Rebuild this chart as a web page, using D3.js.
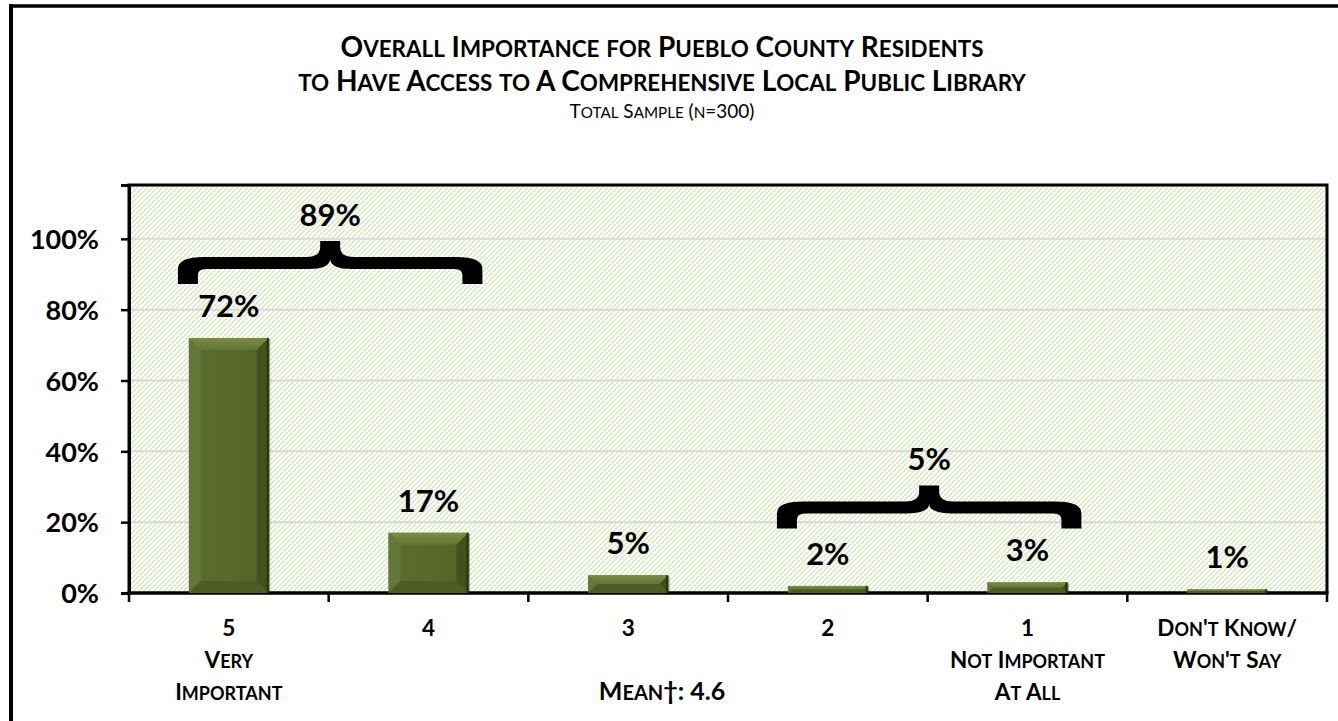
<!DOCTYPE html>
<html>
<head>
<meta charset="utf-8">
<script src="https://cdn.jsdelivr.net/npm/d3@7"></script>
<style>
  html, body { margin: 0; padding: 0; background: #fff; }
  svg text { font-family: Lato, "Open Sans", sans-serif; }
</style>
</head>
<body>
<svg id="chart" width="1338" height="721"></svg>
<script>
// ---------------- DATA ----------------
const categories = ["5", "4", "3", "2", "1", "DK"];
const categoryLabelLines = [
  ["5", "Very", "Important"],
  ["4"],
  ["3"],
  ["2"],
  ["1", "Not Important", "At All"],
  ["Don't Know/", "Won't Say"]
];
const values = [72, 17, 5, 2, 3, 1];
const valueLabels = ["72%", "17%", "5%", "2%", "3%", "1%"];
const yTicks = [0, 20, 40, 60, 80, 100];
const yTickLabels = ["0%", "20%", "40%", "60%", "80%", "100%"];
const braceFrom = ["5", "2"];
const braceTo = ["4", "1"];
const braceLabels = ["89%", "5%"];
const titleLines = ["Overall Importance for Pueblo County Residents",
                    "to Have Access to A Comprehensive Local Public Library"];
const subtitle = "Total Sample (n=300)";
const meanText = "Mean†: 4.6";

// ---------------- HELPERS ----------------
// manual small caps: lowercase letters drawn as reduced capitals
function smallCaps(textSel, str, size, ratio) {
  const runs = [];
  for (const ch of str) {
    const low = ch !== ch.toUpperCase();
    if (runs.length && runs[runs.length - 1].low === low) runs[runs.length - 1].s += ch;
    else runs.push({ low, s: ch });
  }
  runs.forEach(r => {
    textSel.append("tspan").attr("font-size", r.low ? size * ratio : size).text(r.s.toUpperCase());
  });
  return textSel;
}

// ---------------- LAYOUT ----------------
const svg = d3.select("#chart");
const plot = { left: 129, top: 185, right: 1327, bottom: 593 };

const x = d3.scaleBand().domain(categories).range([plot.left, plot.right]).paddingInner(0).paddingOuter(0);
const y = d3.scaleLinear().domain([0, 115.2]).range([plot.bottom, plot.top]);
const barW = x.bandwidth() * 0.4;

const defs = svg.append("defs");
const pat = defs.append("pattern").attr("id", "hatch").attr("patternUnits", "userSpaceOnUse")
  .attr("width", 5).attr("height", 5);
pat.append("rect").attr("width", 5).attr("height", 5).attr("fill", "#ffffff");
pat.append("path").attr("d", "M0,5 L5,0 M-1,1 L1,-1 M4,6 L6,4")
  .attr("stroke", "#d7e5bb").attr("stroke-width", 1.3);

const gTop = defs.append("linearGradient").attr("id", "bevTop").attr("x1", 0).attr("y1", 0).attr("x2", 0).attr("y2", 1);
gTop.append("stop").attr("offset", 0).attr("stop-color", "#7a8c43");
gTop.append("stop").attr("offset", 1).attr("stop-color", "#627535");
const gFace = defs.append("linearGradient").attr("id", "face").attr("x1", 0).attr("y1", 0).attr("x2", 1).attr("y2", 0);
gFace.append("stop").attr("offset", 0).attr("stop-color", "#5c6e2e");
gFace.append("stop").attr("offset", 0.5).attr("stop-color", "#58692b");
gFace.append("stop").attr("offset", 1).attr("stop-color", "#526326");

// outer frame
svg.append("line").attr("x1", 9).attr("x2", 1338).attr("y1", 6).attr("y2", 6).attr("stroke", "#000").attr("stroke-width", 3.5);
svg.append("line").attr("x1", 11).attr("x2", 11).attr("y1", 4).attr("y2", 721).attr("stroke", "#000").attr("stroke-width", 4);

// titles
smallCaps(svg.append("text").attr("x", 662).attr("y", 57).attr("text-anchor", "middle").attr("font-weight", 700),
  titleLines[0], 28, 0.8);
smallCaps(svg.append("text").attr("x", 662).attr("y", 91).attr("text-anchor", "middle").attr("font-weight", 700),
  titleLines[1], 28, 0.8);
smallCaps(svg.append("text").attr("x", 662).attr("y", 118).attr("text-anchor", "middle").attr("font-weight", 400),
  subtitle, 19, 0.8);

// plot background
svg.append("rect").attr("x", plot.left).attr("y", plot.top)
  .attr("width", plot.right - plot.left).attr("height", plot.bottom - plot.top)
  .attr("fill", "url(#hatch)");

// gridlines
svg.append("g").selectAll("line").data(yTicks.filter(d => d > 0)).join("line")
  .attr("x1", plot.left).attr("x2", plot.right)
  .attr("y1", d => y(d)).attr("y2", d => y(d))
  .attr("stroke", "#d9d9d9").attr("stroke-width", 2);

// plot border
svg.append("path")
  .attr("d", `M${plot.left},${plot.bottom} V${plot.top} H${plot.right} V${plot.bottom}`)
  .attr("fill", "none").attr("stroke", "#000").attr("stroke-width", 3);

// y axis
const yAxis = d3.axisLeft(y).tickValues(yTicks).tickFormat((d, i) => yTickLabels[i]).tickSize(8).tickPadding(22);
const yg = svg.append("g").attr("transform", `translate(${plot.left},0)`).call(yAxis);
yg.select(".domain").attr("stroke", "#000").attr("stroke-width", 3);
yg.selectAll(".tick line").attr("stroke", "#000").attr("stroke-width", 2.5);
yg.selectAll(".tick text").attr("font-family", "Lato, sans-serif").attr("font-size", 27)
  .attr("font-weight", 700).attr("fill", "#000").attr("dy", "0.36em");

// x axis line + ticks at band boundaries
svg.append("line").attr("x1", plot.left - 1.5).attr("x2", plot.right + 1.5)
  .attr("y1", plot.bottom).attr("y2", plot.bottom).attr("stroke", "#000").attr("stroke-width", 3.5);
const bounds = categories.map(c => x(c)).concat([x(categories[categories.length - 1]) + x.bandwidth()]);
svg.append("g").selectAll("line").data(bounds).join("line")
  .attr("x1", d => d).attr("x2", d => d)
  .attr("y1", plot.bottom).attr("y2", plot.bottom + 9)
  .attr("stroke", "#000").attr("stroke-width", 2.5);

// bars with bevel
const bars = svg.append("g");
categories.forEach((c, i) => {
  const v = values[i];
  const bx = x(c) + (x.bandwidth() - barW) / 2;
  const by = y(v);
  const bh = y(0) - y(v);
  const b = Math.min(12, bh / 2, barW / 2);
  const g = bars.append("g");
  g.append("rect").attr("x", bx + 1.5).attr("y", by + 1).attr("width", barW).attr("height", bh - 1)
    .attr("fill", "#1e2608").attr("opacity", 0.4);
  g.append("rect").attr("x", bx).attr("y", by).attr("width", barW).attr("height", bh).attr("fill", "url(#face)");
  g.append("polygon").attr("points", [[bx, by], [bx + barW, by], [bx + barW - b, by + b], [bx + b, by + b]].join(" "))
    .attr("fill", "url(#bevTop)");
  g.append("polygon").attr("points", [[bx, by], [bx + b, by + b], [bx + b, by + bh - b], [bx, by + bh]].join(" "))
    .attr("fill", "#64773a");
  g.append("polygon").attr("points", [[bx + barW, by], [bx + barW - b, by + b], [bx + barW - b, by + bh - b], [bx + barW, by + bh]].join(" "))
    .attr("fill", "#43521c");
  g.append("polygon").attr("points", [[bx, by + bh], [bx + b, by + bh - b], [bx + barW - b, by + bh - b], [bx + barW, by + bh]].join(" "))
    .attr("fill", "#4c5c22");
  g.append("rect").attr("x", bx + barW - 2).attr("y", by).attr("width", 2).attr("height", bh).attr("fill", "#2a340f");
});

// value labels
svg.append("g").selectAll("text").data(values).join("text")
  .attr("x", (d, i) => x(categories[i]) + x.bandwidth() / 2)
  .attr("y", d => y(d) - 21)
  .attr("text-anchor", "middle").attr("font-size", 31).attr("font-weight", 700).attr("fill", "#000")
  .text((d, i) => valueLabels[i]);

// category labels
const cl = svg.append("g");
categoryLabelLines.forEach((lines, i) => {
  const cx = x(categories[i]) + x.bandwidth() / 2;
  lines.forEach((t, j) => {
    smallCaps(cl.append("text").attr("x", cx).attr("y", 636 + j * 32)
      .attr("text-anchor", "middle").attr("font-weight", 700).attr("fill", "#000"), t, 22.5, 0.8);
  });
});

// mean
smallCaps(svg.append("text").attr("x", 662).attr("y", 700).attr("text-anchor", "middle").attr("font-weight", 700),
  meanText, 25, 0.8);

// braces (filled shape)
function bracePath(x0, x1, yb, ym, yt, xc) {
  const t = 6, R = 26, w = 20;
  return [
    `M${x0},${yb}`,
    `L${x0},${ym + 6}`,
    `Q${x0},${ym - t} ${x0 + R},${ym - t}`,
    `L${xc - 24},${ym - t}`,
    `Q${xc - 10},${ym - t} ${xc - 10},${yt + 6}`,
    `L${xc - 10},${yt}`,
    `L${xc + 10},${yt}`,
    `L${xc + 10},${yt + 6}`,
    `Q${xc + 10},${ym - t} ${xc + 24},${ym - t}`,
    `L${x1 - R},${ym - t}`,
    `Q${x1},${ym - t} ${x1},${ym + 6}`,
    `L${x1},${yb}`,
    `L${x1 - w},${yb}`,
    `L${x1 - w},${ym + t + 6}`,
    `Q${x1 - w},${ym + t} ${x1 - w - 8},${ym + t}`,
    `L${xc + 22},${ym + t}`,
    `Q${xc},${ym + t} ${xc},${ym - t + 2}`,
    `Q${xc},${ym + t} ${xc - 22},${ym + t}`,
    `L${x0 + w + 8},${ym + t}`,
    `Q${x0 + w},${ym + t} ${x0 + w},${ym + t + 6}`,
    `L${x0 + w},${yb}`,
    "Z"
  ].join(" ");
}
braceLabels.forEach((lab, k) => {
  const i0 = categories.indexOf(braceFrom[k]);
  const i1 = categories.indexOf(braceTo[k]);
  const x0 = x(categories[i0]) + 0.245 * x.bandwidth();
  const x1 = x(categories[i1]) + x.bandwidth() * (1 - 0.23);
  const xc = (x0 + x1) / 2;
  const maxV = d3.max(values.slice(i0, i1 + 1));
  const yb = y(maxV) - 54;
  const ym = yb - 21;
  const yt = yb - 43;
  svg.append("path").attr("d", bracePath(x0, x1, yb, ym, yt, xc)).attr("fill", "#000");
  svg.append("text").attr("x", xc).attr("y", yt - 15).attr("text-anchor", "middle")
    .attr("font-size", 31).attr("font-weight", 700).text(lab);
});
</script>
</body>
</html>
